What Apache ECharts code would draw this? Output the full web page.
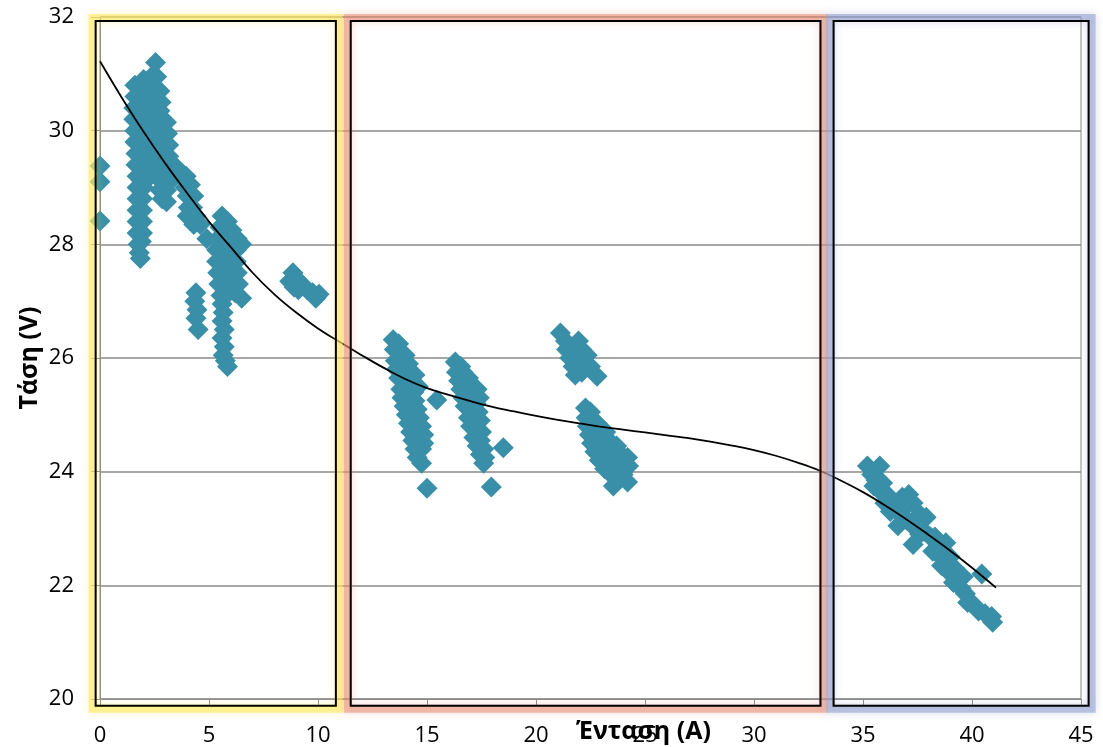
<!DOCTYPE html>
<html>
<head>
<meta charset="utf-8">
<script src="https://cdn.jsdelivr.net/npm/echarts@6/dist/echarts.min.js"></script>
<style>html,body{margin:0;padding:0;background:#fff;}#c{width:1103px;height:747px;}</style>
</head>
<body>
<div id="c"></div>
<script>
// ---- Data (Ένταση A, Τάση V) ----
const pointsAtZero = [[0,29.38],[0,29.1],[0,28.41]];
const clusterLowA = [
  [2.55,31.2],[2.35,30.95],[2.6,30.95],[2.0,30.9],
  [1.6,30.8],[1.9,30.8],[2.2,30.8],[2.5,30.75],[2.75,30.7],
  [1.6,30.6],[1.9,30.6],[2.2,30.6],[2.5,30.55],[2.8,30.5],
  [1.55,30.4],[1.85,30.4],[2.15,30.4],[2.45,30.4],[2.75,30.35],
  [1.55,30.2],[1.85,30.2],[2.15,30.2],[2.45,30.2],[2.75,30.2],[3.05,30.15],
  [1.6,30.0],[1.9,30.0],[2.2,30.0],[2.5,30.0],[2.8,30.0],[3.1,29.95],
  [1.6,29.8],[1.9,29.8],[2.2,29.8],[2.5,29.8],[2.8,29.8],[3.15,29.75],
  [1.65,29.6],[1.95,29.6],[2.25,29.6],[2.55,29.6],[2.85,29.55],[3.15,29.55],
  [1.65,29.4],[1.95,29.4],[2.3,29.4],[2.6,29.4],[2.9,29.35],[3.15,29.35],
  [1.7,29.2],[2.0,29.2],[2.3,29.2],[2.7,29.15],[3.0,29.15],[3.2,29.1],
  [1.7,29.0],[2.0,29.0],[2.75,28.95],[3.05,28.95],
  [1.7,28.8],[1.95,28.8],[2.85,28.8],[3.05,28.75],
  [1.7,28.6],[1.95,28.6],[1.7,28.4],[1.95,28.4],[1.7,28.2],[1.95,28.2],[1.75,28.0],[1.9,28.05],[1.8,27.85],[1.85,27.75]
];
const clusterLowB = [
  [3.5,29.35],[3.75,29.25],[3.95,29.2],[4.15,29.05],[3.9,29.0],[4.0,28.85],[4.3,28.85],[4.05,28.65],[4.25,28.65],
  [4.0,28.5],[4.4,28.5],[4.6,28.35],[4.3,28.35],[4.9,28.1]
];
const clusterLowC = [
  [5.6,28.5],[5.85,28.4],[5.5,28.3],[5.75,28.25],[6.05,28.25],[6.3,28.1],[6.5,28.0],
  [5.4,28.1],[5.7,28.05],[6.0,28.05],[6.25,27.9],
  [5.35,27.9],[5.65,27.85],[5.95,27.85],
  [5.35,27.7],[5.65,27.7],[5.95,27.7],[6.25,27.7],
  [5.4,27.5],[5.7,27.5],[6.0,27.5],[6.3,27.5],
  [5.45,27.3],[5.75,27.3],[6.05,27.3],[6.35,27.3],[6.5,27.05],[6.2,27.15],[5.9,27.15],
  [5.55,27.1],[5.6,26.95],[5.65,26.8],[5.6,26.65],[5.7,26.5],[5.6,26.35],[5.7,26.2],[5.65,26.05],[5.75,25.95],[5.85,25.85]
];
const clusterLowD = [[4.4,27.15],[4.35,27.0],[4.45,26.85],[4.4,26.7],[4.5,26.5]];
const clusterLowE = [
  [8.85,27.5],[8.7,27.35],[9.0,27.4],[9.25,27.3],[8.9,27.25],[9.1,27.2],[9.5,27.2],[9.75,27.15],[10.05,27.12],[9.9,27.05]
];
const clusterMidA = [
  [13.45,26.32],[13.7,26.25],
  [13.5,26.15],[13.75,26.1],[14.0,26.05],
  [13.55,25.95],[13.85,25.95],[14.15,25.9],
  [13.6,25.8],[13.9,25.8],[14.2,25.75],[14.45,25.7],
  [13.7,25.65],[14.0,25.6],[14.3,25.6],[14.6,25.5],
  [13.8,25.45],[14.1,25.45],[14.4,25.4],
  [13.85,25.3],[14.15,25.3],[14.45,25.25],[15.45,25.26],
  [13.95,25.15],[14.25,25.15],[14.55,25.1],
  [14.05,25.0],[14.35,25.0],[14.65,24.95],
  [14.15,24.85],[14.45,24.85],[14.75,24.8],
  [14.25,24.7],[14.55,24.7],[14.85,24.65],
  [14.35,24.55],[14.6,24.55],[14.85,24.5],
  [14.45,24.4],[14.75,24.4],[14.55,24.25],[14.75,24.15],
  [15.0,23.71]
];
const clusterMidB = [
  [16.3,25.93],[16.55,25.85],
  [16.35,25.75],[16.65,25.75],[16.9,25.65],
  [16.45,25.6],[16.75,25.6],[17.05,25.5],[17.3,25.45],
  [16.55,25.45],[16.85,25.4],[17.15,25.35],[17.4,25.3],
  [16.65,25.3],[16.95,25.2],[17.25,25.2],
  [16.75,25.15],[17.05,25.05],[17.35,25.05],
  [16.9,24.95],[17.2,24.9],[17.45,24.9],
  [17.0,24.8],[17.3,24.75],[17.5,24.7],
  [17.15,24.6],[17.45,24.55],[17.3,24.45],[17.6,24.4],[17.45,24.3],[17.65,24.25],[17.6,24.15],
  [18.5,24.42],[17.95,23.73]
];
const clusterMidC = [
  [21.12,26.44],[21.35,26.3],[21.95,26.3],[21.4,26.15],[21.7,26.2],[22.1,26.15],[22.35,26.05],
  [21.55,26.0],[21.85,26.0],[22.15,25.95],[21.7,25.85],[22.0,25.85],[21.8,25.7],[22.1,25.75],[22.5,25.85],[22.8,25.68]
];
const clusterMidD = [
  [22.27,25.12],[22.5,25.05],
  [22.3,24.95],[22.6,24.9],[22.8,24.85],
  [22.35,24.8],[22.65,24.75],[22.95,24.7],[23.2,24.7],
  [22.45,24.65],[22.75,24.6],[23.05,24.55],[23.35,24.55],
  [22.55,24.5],[22.85,24.45],[23.15,24.4],[23.45,24.4],[23.7,24.45],
  [22.7,24.35],[23.0,24.3],[23.3,24.25],[23.6,24.25],[23.9,24.3],[24.2,24.25],
  [22.9,24.2],[23.2,24.15],[23.5,24.1],[23.8,24.1],[24.25,24.1],
  [23.15,24.05],[23.45,23.95],[23.75,23.95],[24.0,23.95],
  [23.55,23.75],[24.2,23.82]
];
const clusterHigh = [
  [35.2,24.1],[35.77,24.1],[35.4,23.95],[35.6,23.85],[35.9,23.8],[35.5,23.75],
  [35.8,23.65],[36.1,23.6],[36.3,23.5],[36.0,23.45],[36.5,23.4],[36.25,23.3],
  [36.8,23.55],[37.1,23.6],[37.3,23.45],[36.7,23.25],[37.0,23.15],[37.0,23.4],
  [36.6,23.05],[37.3,22.72],[37.4,23.0],[37.6,23.25],[37.9,23.2],[37.6,22.9],
  [37.8,22.95],[38.1,22.85],[38.3,22.85],[38.5,22.65],[38.8,22.75],[38.2,22.6],
  [38.7,22.45],[39.0,22.5],[39.2,22.3],[38.9,22.25],[39.3,22.1],[38.6,22.35],
  [39.5,21.95],[39.7,21.85],[39.6,22.15],[40.45,22.2],[39.8,21.7],[39.15,22.05],
  [40.1,21.65],[40.3,21.55],[40.6,21.5],[40.9,21.45],[40.95,21.35]
];
// Polynomial trendline
const trendX = [0,1,2,3,4,5,6,7,8,9,10,11,12,13,14,15,16,17,18,19,20,21,22,23,24,25,26,27,28,29,30,31,32,33,34,35,36,37,38,39,40,41.1];
const trendY = [31.22,30.58,29.98,29.42,28.9,28.4,27.95,27.5,27.12,26.8,26.52,26.28,26.05,25.83,25.63,25.47,25.35,25.24,25.14,25.06,24.98,24.91,24.85,24.79,24.74,24.69,24.64,24.59,24.53,24.46,24.38,24.28,24.16,24.02,23.84,23.64,23.41,23.16,22.89,22.61,22.31,21.96];
// Highlighted regions [xStart, xEnd, yBottom, yTop]
const regionXStart = [-0.2, 11.5, 33.65];
const regionXEnd = [10.82, 33.05, 45.35];
const regionYBottom = [19.88, 19.88, 19.88];
const regionYTop = [31.93, 31.93, 31.93];
const xTicks = [0,5,10,15,20,25,30,35,40,45];
const yTicks = [20,22,24,26,28,30,32];

const allPoints = [].concat(pointsAtZero, clusterLowA, clusterLowB, clusterLowC, clusterLowD, clusterLowE,
  clusterMidA, clusterMidB, clusterMidC, clusterMidD, clusterHigh);
const trendData = trendX.map((x, i) => [x, trendY[i]]);
const regionData = regionXStart.map((x, i) => [x, regionXEnd[i], regionYBottom[i], regionYTop[i]]);
const glowColors = ['rgba(255,234,100,0.6)', 'rgba(232,140,115,0.55)', 'rgba(150,162,208,0.6)'];

const FONT = "'Open Sans', 'Noto Sans', 'DejaVu Sans', sans-serif";
const chart = echarts.init(document.getElementById('c'), null, {renderer: 'canvas'});
chart.setOption({
  backgroundColor: '#ffffff',
  animation: false,
  grid: {left: 100, right: 22, top: 17, bottom: 48, containLabel: false, outerBoundsMode: 'none',
         show: true, borderColor: '#8a8a8a', borderWidth: 1},
  xAxis: {
    type: 'value', min: xTicks[0], max: xTicks[xTicks.length - 1], interval: 5,
    name: 'Ένταση (A)', nameLocation: 'middle', nameGap: 20, nameMoveOverlap: false,
    nameTextStyle: {fontFamily: FONT, fontSize: 25, fontWeight: 'bold', color: '#000', padding: [0, 0, 0, 106]},
    axisLine: {show: true, lineStyle: {color: '#8a8a8a', width: 1}},
    axisTick: {show: true, length: 7, inside: false, lineStyle: {color: '#8a8a8a'}},
    axisLabel: {fontFamily: FONT, fontSize: 22, color: '#000', margin: 26},
    splitLine: {show: false}
  },
  yAxis: {
    type: 'value', min: yTicks[0], max: yTicks[yTicks.length - 1], interval: 2,
    name: 'Τάση (V)', nameLocation: 'middle', nameGap: 58, nameRotate: 90, nameMoveOverlap: false,
    nameTextStyle: {fontFamily: FONT, fontSize: 25, fontWeight: 'bold', color: '#000'},
    axisLine: {show: true, lineStyle: {color: '#8a8a8a', width: 1}},
    axisTick: {show: true, length: 9, inside: false, lineStyle: {color: '#8a8a8a'}},
    axisLabel: {fontFamily: FONT, fontSize: 22, color: '#000', margin: 26},
    splitLine: {show: true, lineStyle: {color: '#8a8a8a', width: 1.5}}
  },
  series: [
    {
      type: 'scatter', data: allPoints, symbol: 'diamond', symbolSize: 21,
      itemStyle: {color: '#3a8fa8', opacity: 1}, z: 2, silent: true
    },
    {
      type: 'line', data: trendData, smooth: 0.4, showSymbol: false, symbol: 'none',
      lineStyle: {color: '#000', width: 1.8}, z: 3, silent: true
    },
    {
      type: 'custom', data: regionData, clip: false, z: 4, silent: true,
      renderItem: function (params, api) {
        const p0 = api.coord([api.value(0), api.value(3)]);
        const p1 = api.coord([api.value(1), api.value(2)]);
        const x = p0[0], y = p0[1], w = p1[0] - p0[0], h = p1[1] - p0[1];
        const g = glowColors[params.dataIndex];
        return {
          type: 'group',
          children: [
            {type: 'rect', shape: {x: x - 3, y: y - 3, width: w + 6, height: h + 6},
             style: {fill: 'none', stroke: g, lineWidth: 8, shadowBlur: 8, shadowColor: g}},
            {type: 'rect', shape: {x: x, y: y, width: w, height: h},
             style: {fill: 'none', stroke: '#000', lineWidth: 2}}
          ]
        };
      }
    }
  ]
});
</script>
</body>
</html>
